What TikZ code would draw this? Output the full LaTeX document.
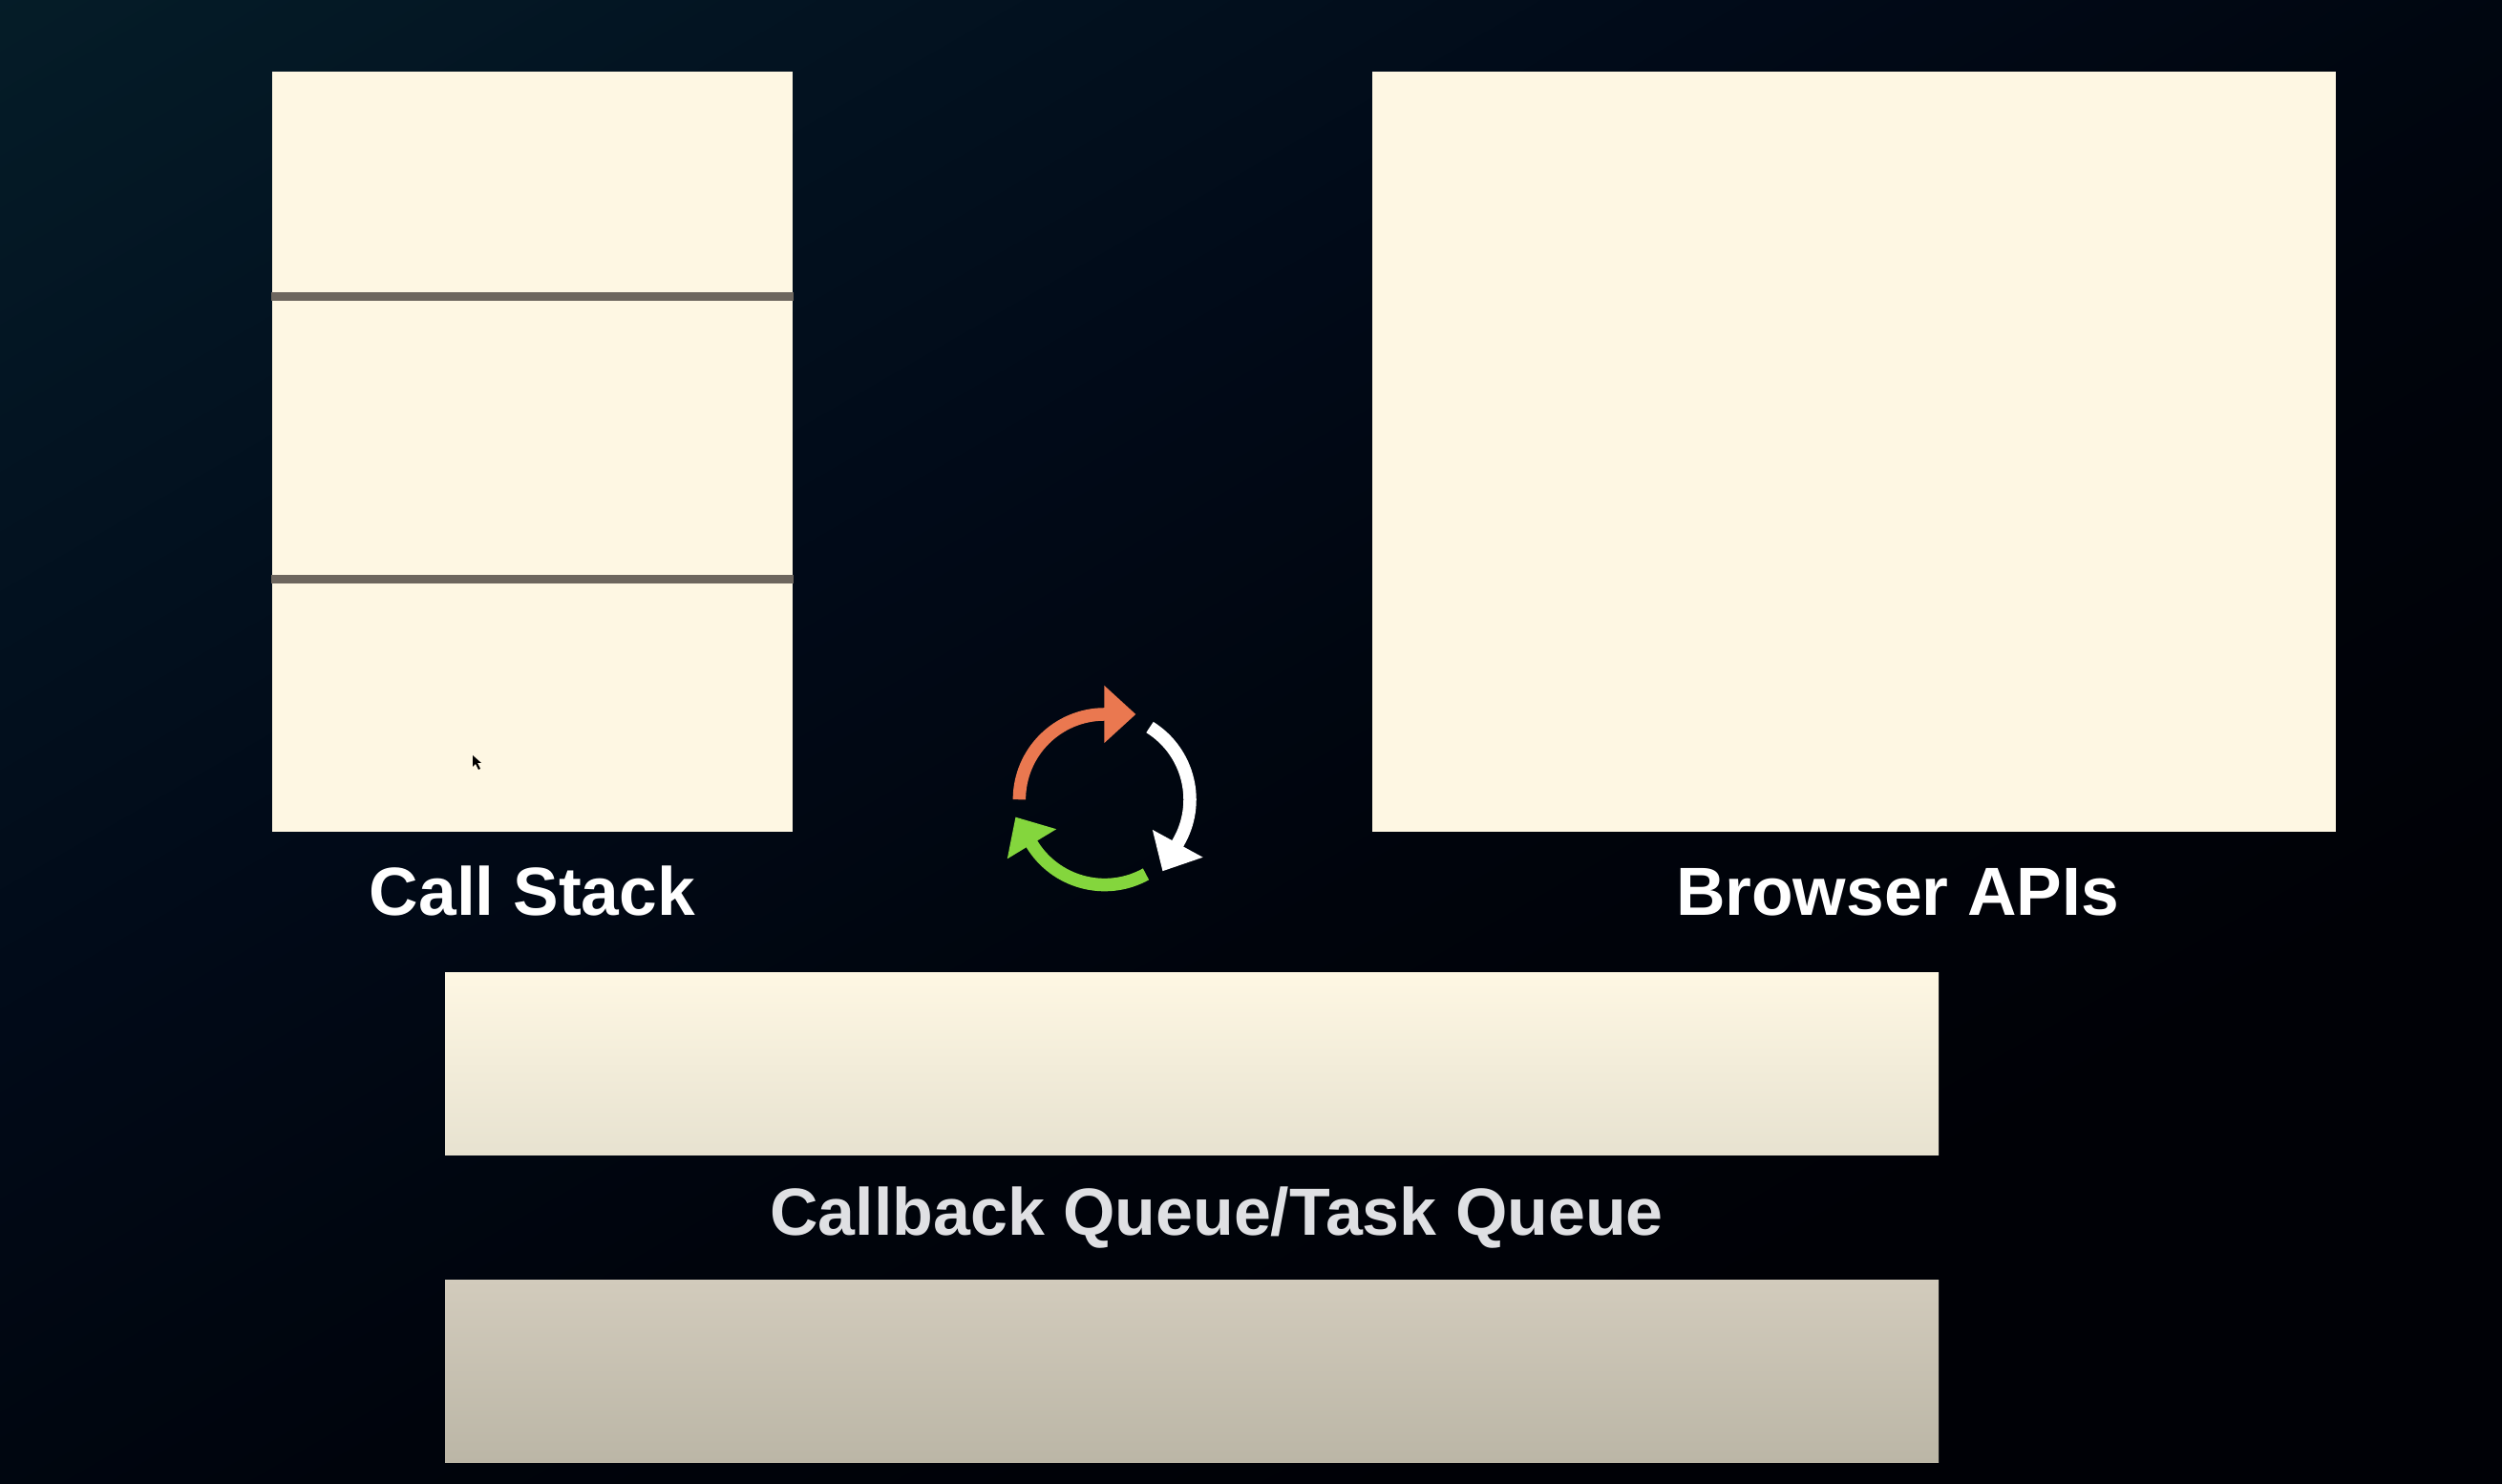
\documentclass[tikz,border=0pt]{standalone}
\usepackage{fontspec}
\setmainfont{Liberation Sans}
\usetikzlibrary{arrows.meta}
\definecolor{cream}{HTML}{FEF7E3}
\definecolor{creamlow}{HTML}{E7E2D0}
\definecolor{sandtop}{HTML}{D2CBBC}
\definecolor{sandlow}{HTML}{BBB6A6}
\definecolor{teal}{HTML}{051D28}
\definecolor{navy}{HTML}{031422}
\definecolor{dusk}{HTML}{010A18}
\definecolor{night}{HTML}{00040C}
\definecolor{ink}{HTML}{000106}
\definecolor{rowline}{HTML}{6D665E}
\definecolor{loopred}{HTML}{EA7850}
\definecolor{loopgreen}{HTML}{84D63D}
\definecolor{softwhite}{HTML}{DFE0E3}
\pgfdeclareverticalshading{backdrop}{100bp}{color(0bp)=(ink); color(30bp)=(ink); color(45bp)=(night); color(60bp)=(dusk); color(74bp)=(navy); color(85bp)=(teal); color(100bp)=(teal)}
\tikzstyle{block} = [rectangle, fill=cream, inner sep=0pt]
\tikzstyle{queue} = [rectangle, inner sep=0pt, minimum width=15.64cm, minimum height=1.91cm]
\tikzstyle{caption} = [text=white, font=\fontsize{20.3pt}{24pt}\selectfont\bfseries, inner sep=0pt]
\tikzstyle{loopline} = [line width=0.135cm, -{Triangle[length=0.33cm, width=0.58cm]}]
\tikzstyle{rowline} = [draw=rowline, line width=0.09cm]

\begin{document}
\begin{tikzpicture}
    \useasboundingbox (0,0) rectangle (26.2,15.54);
    % Backdrop
    \shade [shading=backdrop, shading angle=30] (0,0) rectangle (26.2,15.54);
    % Place nodes
    \node [block, minimum width=5.45cm, minimum height=7.96cm] (stack) at (5.575,10.81) {};
    \node [block, right of=stack, node distance=13.84cm, minimum width=10.09cm, minimum height=7.96cm] (apis) {};
    \node [queue, top color=cream, bottom color=creamlow] (callback) at (12.48,4.395) {};
    \node [queue, below of=callback, node distance=3.215cm, top color=sandtop, bottom color=sandlow] (lower) {};
    \node [caption, anchor=base] (stacklabel) at (5.575,5.95) {Call Stack};
    \node [caption, anchor=base] (apislabel) at (19.87,5.95) {Browser APIs};
    \node [caption, anchor=base, text=softwhite, font=\fontsize{19.9pt}{24pt}\selectfont\bfseries] (callbacklabel) at (12.74,2.60) {Callback Queue/Task Queue};
    \coordinate (rowA) at (5.575,12.43);
    \coordinate (rowB) at (5.575,9.47);
    \coordinate (loop) at (11.567,7.167);
    % Draw edges
    \path [rowline] (stack.west |- rowA) -- (stack.east |- rowA);
    \path [rowline] (stack.west |- rowB) -- (stack.east |- rowB);
    \draw [loopline, loopred] ([shift={(180:0.893)}]loop) arc [start angle=180, end angle=90, radius=0.893] -- ([shift={(0.327,0.893)}]loop);
    \draw [loopline, white] ([shift={(58:0.893)}]loop) arc [start angle=58, end angle=-30.8, radius=0.893] -- ([shift={(0.607,-0.75)}]loop);
    \draw [loopline, loopgreen] ([shift={(-61:0.893)}]loop) arc [start angle=-61, end angle=-149.4, radius=0.893] -- ([shift={(-0.933,-0.183)}]loop);
    % Pointer
    \fill [black] (4.95,7.63) -- (4.95,7.51) -- (4.98,7.54) -- (5.01,7.48) -- (5.03,7.49) -- (5.00,7.55) -- (5.04,7.55) -- cycle;
\end{tikzpicture}
\end{document}
